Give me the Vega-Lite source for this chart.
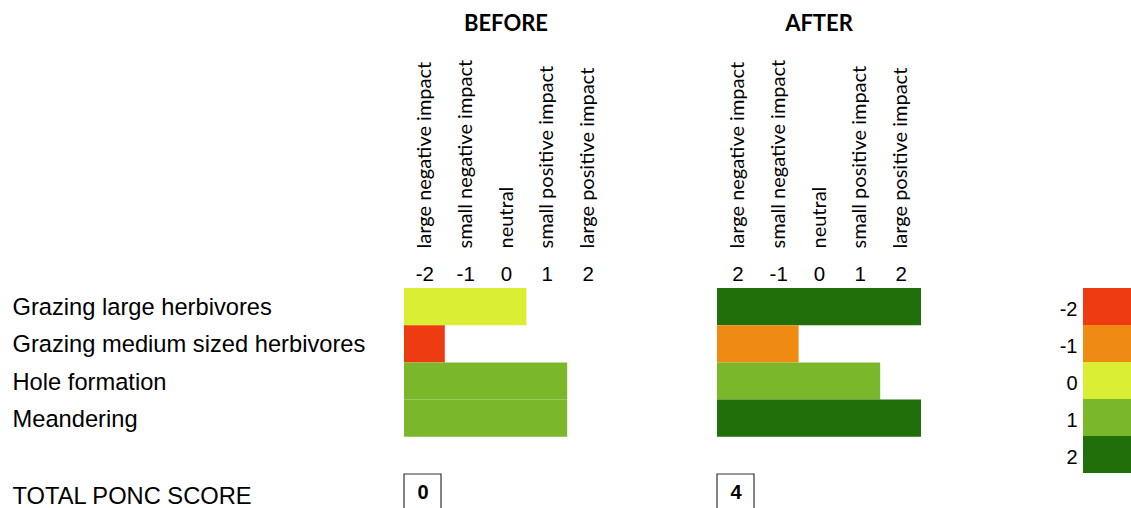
{
  "$schema": "https://vega.github.io/schema/vega-lite/v6.json",
  "padding": {"left": 12, "top": 13, "right": 0, "bottom": 0},
  "background": "white",
  "config": {
    "view": {"stroke": null},
    "title": {"font": "Lato", "fontSize": 22, "fontWeight": "bold", "color": "#000000", "offset": 23}
  },
  "datasets": {
    "impacts": [
      {"phase": "BEFORE", "item": "Grazing large herbivores", "score": 0},
      {"phase": "BEFORE", "item": "Grazing medium sized herbivores", "score": -2},
      {"phase": "BEFORE", "item": "Hole formation", "score": 1},
      {"phase": "BEFORE", "item": "Meandering", "score": 1},
      {"phase": "AFTER", "item": "Grazing large herbivores", "score": 2},
      {"phase": "AFTER", "item": "Grazing medium sized herbivores", "score": -1},
      {"phase": "AFTER", "item": "Hole formation", "score": 1},
      {"phase": "AFTER", "item": "Meandering", "score": 2}
    ],
    "totals": [
      {"phase": "BEFORE", "item": "TOTAL PONC SCORE", "total": 0},
      {"phase": "AFTER", "item": "TOTAL PONC SCORE", "total": 4}
    ],
    "legendKeys": [
      {"score": -2}, {"score": -1}, {"score": 0}, {"score": 1}, {"score": 2}
    ]
  },
  "hconcat": [
    {
      "width": 204,
      "height": {"step": 37.2},
      "title": {"text": "BEFORE"},
      "layer": [
        {
          "data": {"name": "impacts"},
          "transform": [{"filter": "datum.phase === 'BEFORE'"}],
          "mark": "rect",
          "encoding": {
            "x": {"field": "score", "type": "quantitative",
              "scale": {"domain": [-3, 2], "nice": false, "zero": false},
              "axis": {"orient": "top", "title": null, "values": [-2.5, -1.5, -0.5, 0.5, 1.5],
                "labelExpr": "'' + (datum.value + 0.5)", "ticks": false, "domain": false, "grid": false,
                "labelFont": "Liberation Sans", "labelFontSize": 20.5, "labelColor": "#000000",
                "labelBaseline": "alphabetic", "labelAlign": "center", "labelPadding": 8,
                "labelFlush": false, "labelOverlap": false}},
            "x2": {"datum": -3},
            "y": {"field": "item", "type": "nominal",
              "scale": {"domain": ["Grazing large herbivores", "Grazing medium sized herbivores", "Hole formation", "Meandering", " ", "TOTAL PONC SCORE"], "paddingInner": 0, "paddingOuter": 0},
              "axis": {"title": null, "ticks": false, "domain": false, "grid": false,
                "labelAlign": "left", "labelPadding": 392, "labelBaseline": "middle",
                "labelFont": "Liberation Sans", "labelFontSize": 23.7, "labelColor": "#000000", "labelLimit": 0,
                "labelOffset": {"condition": {"test": "datum.value === 'TOTAL PONC SCORE'", "value": 4.5}, "value": 1.5}}},
            "color": {"field": "score", "type": "ordinal",
              "scale": {"domain": [-2, -1, 0, 1, 2], "range": ["#EF3B12", "#EF8A12", "#DAEE33", "#7AB72A", "#216F0A"]},
              "legend": null}
          }
        },
        {
          "data": {"name": "totals"},
          "transform": [{"filter": "datum.phase === 'BEFORE'"}],
          "mark": {"type": "rect", "fill": "white", "stroke": "#333333", "strokeWidth": 1.2},
          "encoding": {
            "x": {"datum": -3, "type": "quantitative",
              "axis": {"orient": "top", "title": null, "values": [-2.5, -1.5, -0.5, 0.5, 1.5],
                "labelExpr": "['large negative impact','small negative impact','neutral','small positive impact','large positive impact'][datum.value + 2.5]",
                "ticks": false, "domain": false, "grid": false, "offset": 40,
                "labelAngle": -90, "labelAlign": "left", "labelBaseline": "middle", "labelPadding": 0,
                "labelFont": "Lato", "labelFontSize": 20, "labelColor": "#000000", "labelLimit": 0,
                "labelFlush": false, "labelOverlap": false}},
            "x2": {"datum": -2.093},
            "y": {"field": "item", "type": "nominal"}
          }
        },
        {
          "data": {"name": "totals"},
          "transform": [{"filter": "datum.phase === 'BEFORE'"}],
          "mark": {"type": "text", "font": "Liberation Sans", "fontSize": 20, "fontWeight": "bold", "color": "#000000", "baseline": "middle"},
          "encoding": {
            "x": {"datum": -2.53, "type": "quantitative", "axis": null},
            "y": {"field": "item", "type": "nominal"},
            "text": {"field": "total", "type": "quantitative"}
          }
        }
      ],
      "resolve": {"axis": {"x": "independent"}}
    },
    {
      "width": 109,
      "height": 10,
      "data": {"values": []},
      "mark": "point"
    },
    {
      "width": 204,
      "height": {"step": 37.2},
      "title": {"text": "AFTER"},
      "layer": [
        {
          "data": {"name": "impacts"},
          "transform": [{"filter": "datum.phase === 'AFTER'"}],
          "mark": "rect",
          "encoding": {
            "x": {"field": "score", "type": "quantitative",
              "scale": {"domain": [-3, 2], "nice": false, "zero": false},
              "axis": {"orient": "top", "title": null, "values": [-2.5, -1.5, -0.5, 0.5, 1.5],
                "labelExpr": "datum.value === -2.5 ? '2' : '' + (datum.value + 0.5)", "ticks": false, "domain": false, "grid": false,
                "labelFont": "Liberation Sans", "labelFontSize": 20.5, "labelColor": "#000000",
                "labelBaseline": "alphabetic", "labelAlign": "center", "labelPadding": 8,
                "labelFlush": false, "labelOverlap": false}},
            "x2": {"datum": -3},
            "y": {"field": "item", "type": "nominal",
              "scale": {"domain": ["Grazing large herbivores", "Grazing medium sized herbivores", "Hole formation", "Meandering", " ", "TOTAL PONC SCORE"], "paddingInner": 0, "paddingOuter": 0},
              "axis": null},
            "color": {"field": "score", "type": "ordinal",
              "scale": {"domain": [-2, -1, 0, 1, 2], "range": ["#EF3B12", "#EF8A12", "#DAEE33", "#7AB72A", "#216F0A"]},
              "legend": null}
          }
        },
        {
          "data": {"name": "totals"},
          "transform": [{"filter": "datum.phase === 'AFTER'"}],
          "mark": {"type": "rect", "fill": "white", "stroke": "#333333", "strokeWidth": 1.2},
          "encoding": {
            "x": {"datum": -3, "type": "quantitative",
              "axis": {"orient": "top", "title": null, "values": [-2.5, -1.5, -0.5, 0.5, 1.5],
                "labelExpr": "['large negative impact','small negative impact','neutral','small positive impact','large positive impact'][datum.value + 2.5]",
                "ticks": false, "domain": false, "grid": false, "offset": 40,
                "labelAngle": -90, "labelAlign": "left", "labelBaseline": "middle", "labelPadding": 0,
                "labelFont": "Lato", "labelFontSize": 20, "labelColor": "#000000", "labelLimit": 0,
                "labelFlush": false, "labelOverlap": false}},
            "x2": {"datum": -2.093},
            "y": {"field": "item", "type": "nominal"}
          }
        },
        {
          "data": {"name": "totals"},
          "transform": [{"filter": "datum.phase === 'AFTER'"}],
          "mark": {"type": "text", "font": "Liberation Sans", "fontSize": 20, "fontWeight": "bold", "color": "#000000", "baseline": "middle"},
          "encoding": {
            "x": {"datum": -2.53, "type": "quantitative", "axis": null},
            "y": {"field": "item", "type": "nominal"},
            "text": {"field": "total", "type": "quantitative"}
          }
        }
      ],
      "resolve": {"axis": {"x": "independent"}}
    },
    {
      "width": 162,
      "height": 10,
      "data": {"values": []},
      "mark": "point"
    },
    {
      "width": 48,
      "height": {"step": 37},
      "data": {"name": "legendKeys"},
      "mark": "rect",
      "encoding": {
        "y": {"field": "score", "type": "ordinal", "sort": "ascending",
          "scale": {"paddingInner": 0, "paddingOuter": 0},
          "axis": {"title": null, "ticks": false, "domain": false, "grid": false, "orient": "left",
            "labelPadding": 6, "labelOffset": 3, "labelBaseline": "middle",
            "labelFont": "Liberation Sans", "labelFontSize": 20, "labelColor": "#000000"}},
        "color": {"field": "score", "type": "ordinal",
          "scale": {"domain": [-2, -1, 0, 1, 2], "range": ["#EF3B12", "#EF8A12", "#DAEE33", "#7AB72A", "#216F0A"]},
          "legend": null}
      }
    }
  ],
  "spacing": 0,
  "bounds": "flush"
}
